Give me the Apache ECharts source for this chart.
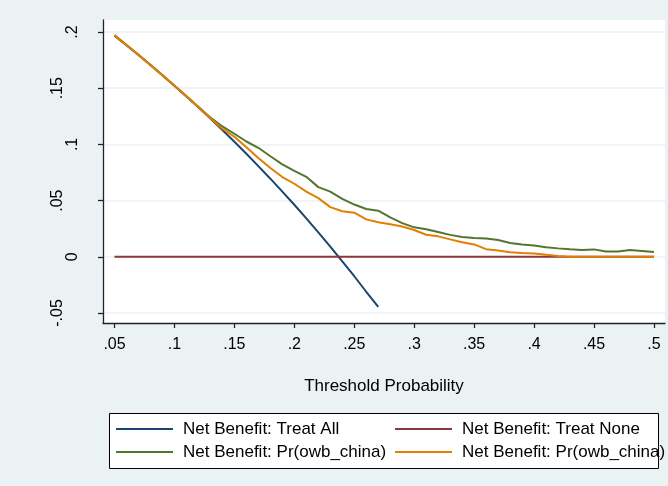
<!DOCTYPE html>
<html><head><meta charset="utf-8">
<script src="https://cdn.jsdelivr.net/npm/echarts@6/dist/echarts.min.js"></script>
<style>html,body{margin:0;padding:0;background:#eaf2f3}#c{width:668px;height:486px}</style>
</head><body><div id="c"></div>
<script>
// Threshold probabilities (x values)
const thresholds = [0.05,0.06,0.07,0.08,0.09,0.10,0.11,0.12,0.13,0.14,0.15,0.16,0.17,0.18,0.19,0.20,
  0.21,0.22,0.23,0.24,0.25,0.26,0.27,0.28,0.29,0.30,0.31,0.32,0.33,0.34,0.35,0.36,0.37,0.38,0.39,0.40,
  0.41,0.42,0.43,0.44,0.45,0.46,0.47,0.48,0.49,0.50];
// Net Benefit: Treat All (stops at 0.27)
const treatAll = [0.1968,0.1883,0.1796,0.1706,0.1615,0.1522,0.1427,0.1330,0.1230,0.1128,0.1024,0.0917,
  0.0807,0.0695,0.0580,0.0463,0.0342,0.0218,0.0091,-0.0040,-0.0173,-0.0311,-0.0445];
// Net Benefit: Treat None
const treatNone = [0,0,0,0,0,0,0,0,0,0,0,0,0,0,0,0,0,0,0,0,0,0,0,0,0,0,0,0,0,0,0,0,0,0,0,0,0,0,0,0,0,0,0,0,0,0];
// Net Benefit: Pr(owb_china) - green
const modelGreen = [0.1970,0.1884,0.1797,0.1707,0.1616,0.1523,0.1429,0.1334,0.1240,0.1160,0.1095,0.1026,
  0.0970,0.0895,0.0822,0.0765,0.0712,0.0620,0.0580,0.0515,0.0465,0.0425,0.0410,0.0350,0.0300,0.0262,
  0.0245,0.0220,0.0195,0.0176,0.0168,0.0163,0.0150,0.0122,0.0110,0.0101,0.0085,0.0075,0.0067,0.0060,
  0.0066,0.0048,0.0047,0.0060,0.0052,0.0042];
// Net Benefit: Pr(owb_china) - orange
const modelOrange = [0.1970,0.1884,0.1797,0.1707,0.1616,0.1523,0.1429,0.1333,0.1233,0.1140,0.1068,0.0975,
  0.0880,0.0790,0.0710,0.0650,0.0580,0.0522,0.0442,0.0405,0.0392,0.0333,0.0308,0.0290,0.0270,0.0238,
  0.0196,0.0182,0.0155,0.0130,0.0110,0.0068,0.0057,0.0040,0.0033,0.0030,0.0018,0.0008,0,0,
  0,0,0,0,0,0];
const xTicks = [0.05,0.10,0.15,0.20,0.25,0.30,0.35,0.40,0.45,0.50];
const yTicks = [-0.05,0,0.05,0.10,0.15,0.20];
const seriesNames = ['ta','tn','mg','mo'];
const legendLabels = ['Net Benefit: Treat All','Net Benefit: Treat None','Net Benefit: Pr(owb_china)','Net Benefit: Pr(owb_china)'];
const xTitle = 'Threshold Probability';

const colors = ['#1a476f','#90353b','#55752f','#e37e00'];
const FONT = '"Liberation Sans", Arial, sans-serif';
function fmt(v){ const s = String(Math.round(v*100)/100); return s.replace('0.', '.'); }
function pairs(arr){ return arr.map((v,i)=>[thresholds[i], v]); }

const dataSets = [treatAll, treatNone, modelGreen, modelOrange];
const series = dataSets.map((arr,i)=>({
  name: seriesNames[i], type:'line', data: pairs(arr), symbol:'none', showSymbol:false,
  lineStyle:{color:colors[i], width:2}, itemStyle:{color:colors[i]}, silent:true, z: 2+i
}));

const legendPos = [[116,419],[395,419],[116,442],[395,442]];
const legends = seriesNames.map((n,i)=>({
  data:[n], left: legendPos[i][0], top: legendPos[i][1], padding:0, itemWidth:57, itemHeight:2,
  icon:'rect', selectedMode:false, formatter: ()=>legendLabels[i],
  itemStyle:{color:colors[i]},
  textStyle:{fontSize:17, color:'#000', fontFamily:FONT, lineHeight:20, padding:[0,0,0,5]}
}));

const axisCol = '#222';
const chart = echarts.init(document.getElementById('c'));
chart.setOption({
  animation:false,
  backgroundColor:'#eaf2f3',
  grid:{left:103, right:3, top:20, bottom:163, show:true, backgroundColor:'#ffffff', borderWidth:0},
  graphic:[{type:'rect', left:109, top:413, shape:{width:549, height:55},
    style:{fill:'#ffffff', stroke:'#000', lineWidth:1}, z:0}],
  legend: legends,
  xAxis:{type:'value', min:0.0404, max:0.5092,
    axisLine:{show:true, onZero:false, lineStyle:{color:axisCol, width:1.3}},
    axisTick:{show:true, customValues:xTicks, length:5, lineStyle:{color:axisCol, width:1.3}},
    axisLabel:{customValues:xTicks, formatter:fmt, fontSize:16, color:'#000', fontFamily:FONT, margin:14},
    splitLine:{show:false},
    name:xTitle, nameLocation:'middle', nameGap:55,
    nameTextStyle:{fontSize:17, color:'#000', fontFamily:FONT}},
  yAxis:{type:'value', min:-0.0589, max:0.2107,
    axisLine:{show:true, onZero:false, lineStyle:{color:axisCol, width:1.3}},
    axisTick:{show:true, customValues:yTicks, length:5, lineStyle:{color:axisCol, width:1.3}},
    axisLabel:{customValues:yTicks, rotate:90, margin:22, fontSize:16, color:'#000', fontFamily:FONT,
      formatter:(v)=>{ const s = fmt(v); return s.length>=3 ? '{l|'+s+'}' : '{s|'+s+'}'; },
      rich:{ s:{fontSize:16, color:'#000', fontFamily:FONT}, l:{fontSize:16, color:'#000', fontFamily:FONT, padding:[0,0,15,0]} }},
    splitLine:{show:true, lineStyle:{color:'#eaf2f3', width:1.5}}},
  series: series
});
</script></body></html>
